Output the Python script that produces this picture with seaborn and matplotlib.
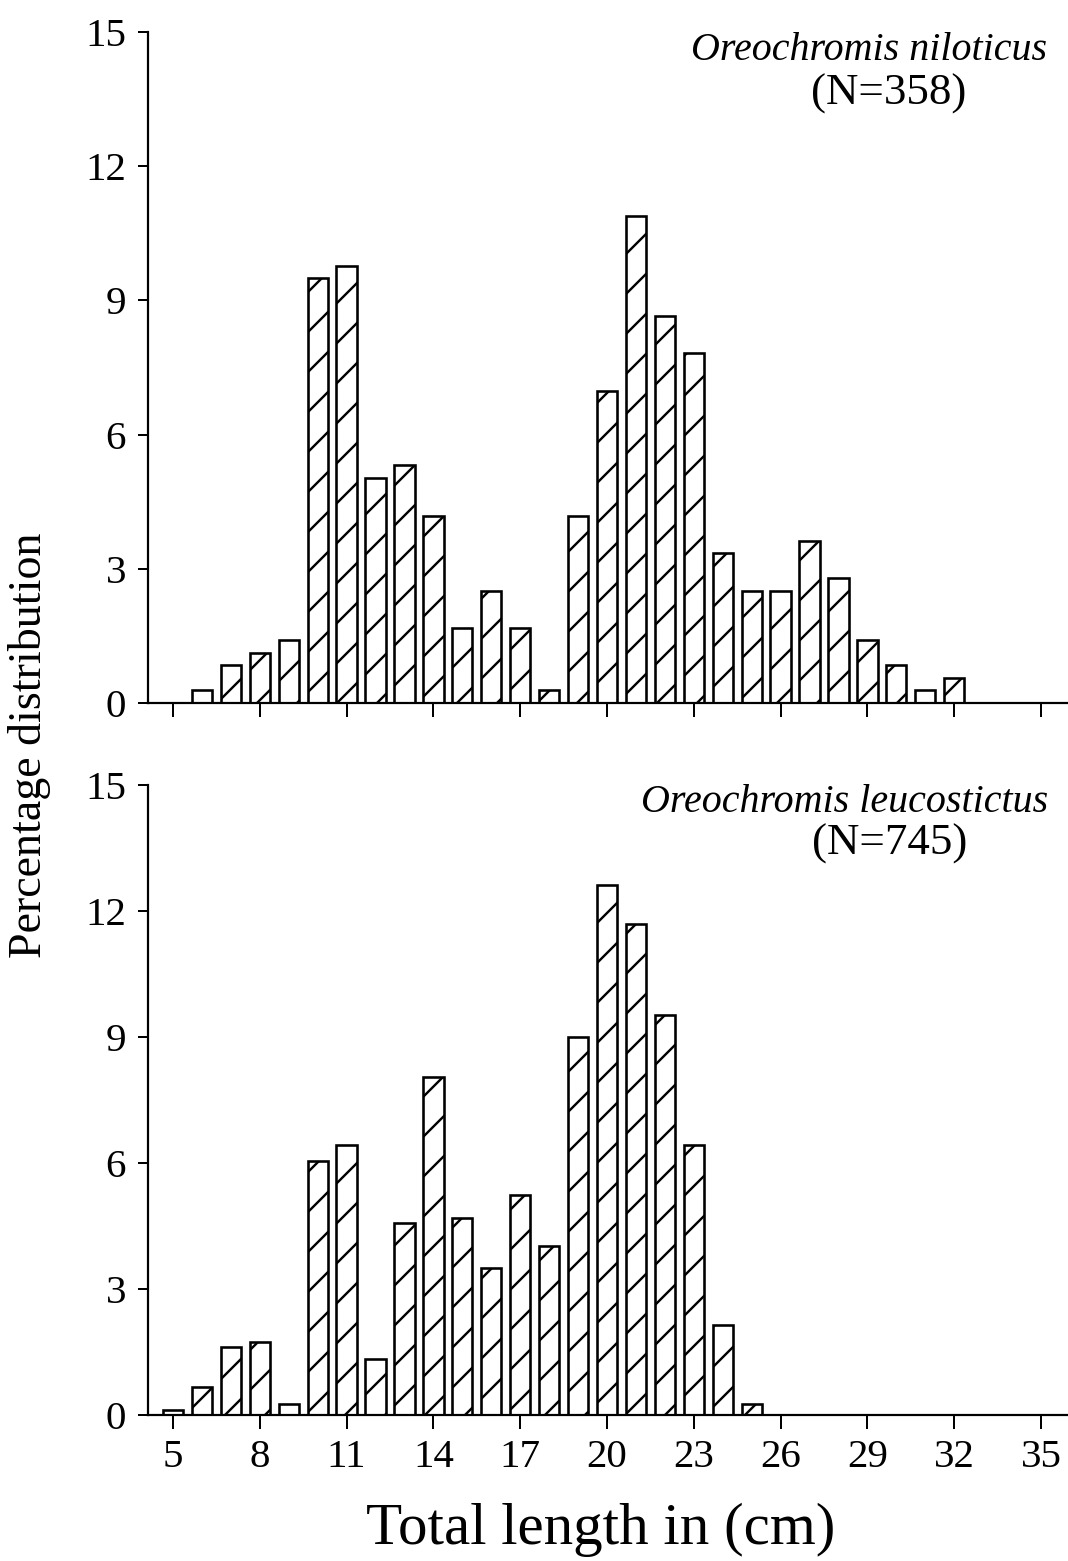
import matplotlib
matplotlib.use("Agg")
import matplotlib.pyplot as plt
import seaborn as sns
import pandas as pd

# ---------------- data ----------------
lengths_nil = [6, 7, 8, 9, 10, 11, 12, 13, 14, 15, 16, 17, 18, 19, 20, 21, 22, 23,
               24, 25, 26, 27, 28, 29, 30, 31, 32]
pct_nil = [0.28, 0.84, 1.12, 1.40, 9.50, 9.78, 5.03, 5.31, 4.19, 1.68, 2.51, 1.68,
           0.28, 4.19, 6.98, 10.89, 8.66, 7.82, 3.35, 2.51, 2.51, 3.63, 2.79, 1.40,
           0.84, 0.28, 0.56]

lengths_leu = [5, 6, 7, 8, 9, 10, 11, 12, 13, 14, 15, 16, 17, 18, 19, 20, 21, 22, 23, 24, 25]
pct_leu = [0.13, 0.67, 1.61, 1.74, 0.27, 6.04, 6.44, 1.34, 4.56, 8.05, 4.70, 3.49,
           5.23, 4.03, 8.99, 12.62, 11.68, 9.53, 6.44, 2.15, 0.27]

x_ticks = [5, 8, 11, 14, 17, 20, 23, 26, 29, 32, 35]
y_ticks = [0, 3, 6, 9, 12, 15]

title_nil = "Oreochromis niloticus"
n_nil = "(N=358)"
title_leu = "Oreochromis leucostictus"
n_leu = "(N=745)"
y_label = "Percentage distribution"
x_label = "Total length in (cm)"

# ---------------- style ----------------
DPI = 120
W, H = 1068, 1561


def pt(px):
    return px * 72.0 / DPI


sns.set_style("ticks")
plt.rcParams["font.family"] = ["Liberation Serif", "DejaVu Serif"]
plt.rcParams["hatch.linewidth"] = pt(2.4)
plt.rcParams["hatch.color"] = "black"
plt.rcParams["text.color"] = "black"

fig = plt.figure(figsize=(W / DPI, H / DPI), dpi=DPI)
fig.patch.set_facecolor("white")

ax1 = fig.add_axes([148 / W, 1 - 703 / H, (W - 148) / W, (703 - 32) / H])
ax2 = fig.add_axes([148 / W, 1 - 1415 / H, (W - 148) / W, (1415 - 785) / H])

px_per_unit = (1041 - 173) / 30.0
xmin = 5 - (173 - 148) / px_per_unit
xmax = 35 + (1068 - 1041) / px_per_unit

for ax, xs, ys in [(ax1, lengths_nil, pct_nil), (ax2, lengths_leu, pct_leu)]:
    df = pd.DataFrame({"length": xs, "pct": ys})
    sns.barplot(data=df, x="length", y="pct", native_scale=True, width=0.7,
                color="white", saturation=1, edgecolor="black",
                linewidth=pt(2.6), hatch="/", errorbar=None, ax=ax)
    ax.set_xlim(xmin, xmax)
    ax.set_ylim(0, 15)
    ax.set_yticks(y_ticks)
    ax.set_xticks(x_ticks)
    ax.set_xlabel("")
    ax.set_ylabel("")
    for s in ["top", "right"]:
        ax.spines[s].set_visible(False)
    for s in ["left", "bottom"]:
        ax.spines[s].set_linewidth(pt(2.2))
        ax.spines[s].set_color("black")
    ax.tick_params(axis="y", direction="out", length=pt(10), width=pt(2.0),
                   labelsize=pt(41), pad=pt(12), colors="black")
    ax.tick_params(axis="x", direction="out", length=pt(14), width=pt(2.0),
                   labelsize=pt(41), pad=pt(10), colors="black")
    ax.set_facecolor("white")

ax1.tick_params(axis="x", labelbottom=False)

# species annotations
serif = ["Liberation Serif", "DejaVu Serif"]
fig.text(869 / W, 1 - 50 / H, title_nil, ha="center", va="center",
         fontsize=pt(40), fontstyle="italic", family=serif, color="black")
fig.text(889 / W, 1 - 94 / H, n_nil, ha="center", va="center",
         fontsize=pt(45), family=serif, color="black")
fig.text(845 / W, 1 - 803 / H, title_leu, ha="center", va="center",
         fontsize=pt(40), fontstyle="italic", family=serif, color="black")
fig.text(890 / W, 1 - 844 / H, n_leu, ha="center", va="center",
         fontsize=pt(45), family=serif, color="black")

fig.text(30 / W, 1 - 745 / H, y_label, ha="center", va="center", rotation=90,
         fontsize=pt(46), family=serif, color="black")
fig.text(601 / W, 1 - 1530 / H, x_label, ha="center", va="center",
         fontsize=pt(59), family=serif, color="black")

fig.savefig("out.png", dpi=DPI, facecolor="white")
